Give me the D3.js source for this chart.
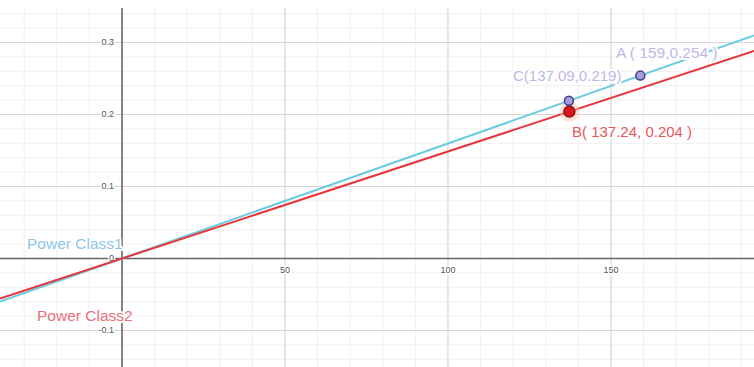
<!DOCTYPE html>
<html><head><meta charset="utf-8">
<script src="https://cdn.jsdelivr.net/npm/d3@7"></script>
<style>body{margin:0;background:#fff}svg{display:block}text{font-family:"Liberation Sans",Arial,sans-serif}</style>
</head><body>
<script>
// ---- data ----
const seriesNames = ["Power Class1", "Power Class2"];
const seriesSlopes = [0.0015975, 0.0014865];
const seriesColors = ["#6accE2", "#e8353b"];
const labelColors = ["#8cc6ec", "#ea6f78"];
const pointLabels = ["A ( 159,0.254 )", "C(137.09,0.219)", "B( 137.24, 0.204 )"];
const pointX = [159, 137.09, 137.24];
const pointY = [0.254, 0.219, 0.204];
const xTicks = [50, 100, 150];
const yTicks = [-0.1, 0, 0.1, 0.2, 0.3];
const yTickLabels = ["-0.1", "0", "0.1", "0.2", "0.3"];

const W = 754, H = 367, topY = 8;
const x = d3.scaleLinear().domain([-37.42, 193.87]).range([0, W]);
const y = d3.scaleLinear().domain([-0.1507, 0.3479]).range([H, topY]);

const svg = d3.select("body").append("svg").attr("width", W).attr("height", H);
const g = svg.append("g");

// minor grid
const xMinor = d3.range(-30, 195, 10);
const yMinor = d3.range(-0.14, 0.35, 0.02);
g.selectAll(".vmin").data(xMinor).join("line")
  .attr("x1", d => x(d)).attr("x2", d => x(d)).attr("y1", topY).attr("y2", H)
  .attr("stroke", "#efefef").attr("stroke-width", 1);
g.selectAll(".hmin").data(yMinor).join("line")
  .attr("y1", d => y(d)).attr("y2", d => y(d)).attr("x1", 0).attr("x2", W)
  .attr("stroke", "#efefef").attr("stroke-width", 1);
// major grid
g.selectAll(".vmaj").data(xTicks).join("line")
  .attr("x1", d => x(d)).attr("x2", d => x(d)).attr("y1", topY).attr("y2", H)
  .attr("stroke", "#d6d6d6").attr("stroke-width", 1);
g.selectAll(".hmaj").data(yTicks.filter(d => d !== 0)).join("line")
  .attr("y1", d => y(d)).attr("y2", d => y(d)).attr("x1", 0).attr("x2", W)
  .attr("stroke", "#d6d6d6").attr("stroke-width", 1);

// axes
g.append("line").attr("x1", x(0)).attr("x2", x(0)).attr("y1", topY).attr("y2", H)
  .attr("stroke", "#666").attr("stroke-width", 1.6);
g.append("line").attr("x1", 0).attr("x2", W).attr("y1", y(0)).attr("y2", y(0))
  .attr("stroke", "#666").attr("stroke-width", 1.6);

function halo(sel, w) {
  return sel.attr("stroke", "#fff").attr("stroke-width", w || 3)
    .attr("stroke-linejoin", "round").attr("paint-order", "stroke");
}

// tick labels
halo(g.selectAll(".xt").data(xTicks).join("text")
  .attr("x", d => x(d)).attr("y", y(0) + 15).attr("text-anchor", "middle")
  .attr("font-size", 9).attr("fill", "#555").text(d => d));
halo(g.selectAll(".yt").data(yTicks).join("text")
  .attr("x", x(0) - 8).attr("y", d => y(d) + 3).attr("text-anchor", "end")
  .attr("font-size", 9).attr("fill", "#555").text((d, i) => yTickLabels[i]));

// lines
const xd = x.domain();
seriesSlopes.forEach((k, i) => {
  const pts = xd.map(v => [v, k * v]);
  g.append("path").datum(pts)
    .attr("d", d3.line().x(d => x(d[0])).y(d => y(d[1])))
    .attr("fill", "none").attr("stroke", seriesColors[i]).attr("stroke-width", 2);
});

// series labels
const serLabelPos = [[27, 249], [37, 321]];
seriesNames.forEach((n, i) => {
  halo(g.append("text").attr("x", serLabelPos[i][0]).attr("y", serLabelPos[i][1])
    .attr("font-size", 15.5).attr("fill", labelColors[i]).text(n), 4);
});

// points
const ptFill = ["#a99ad8", "#a99ad8", "#d8161c"];
const ptStroke = ["#3d3f86", "#3d3f86", "#8c1010"];
const ptR = [4.5, 4.5, 5.5];
g.append("circle").attr("cx", x(pointX[2])).attr("cy", y(pointY[2])).attr("r", 10)
  .attr("fill", "#f6c2a8").attr("opacity", 0.45);

// point labels
const ptLabelPos = [[616, 58], [513, 81], [572, 137]];
const ptLabelColors = ["#c2b6e6", "#c2b6e6", "#ea545c"];
const ptLabelSizes = [15.5, 15, 15];
pointLabels.forEach((t, i) => {
  halo(g.append("text").attr("x", ptLabelPos[i][0]).attr("y", ptLabelPos[i][1])
    .attr("font-size", ptLabelSizes[i]).attr("fill", ptLabelColors[i]).text(t), 4);
});

[2, 1, 0].forEach(i => {
  g.append("circle").attr("cx", x(pointX[i])).attr("cy", y(pointY[i])).attr("r", ptR[i])
    .attr("fill", ptFill[i]).attr("stroke", ptStroke[i]).attr("stroke-width", 1.5);
});
</script>
</body></html>
